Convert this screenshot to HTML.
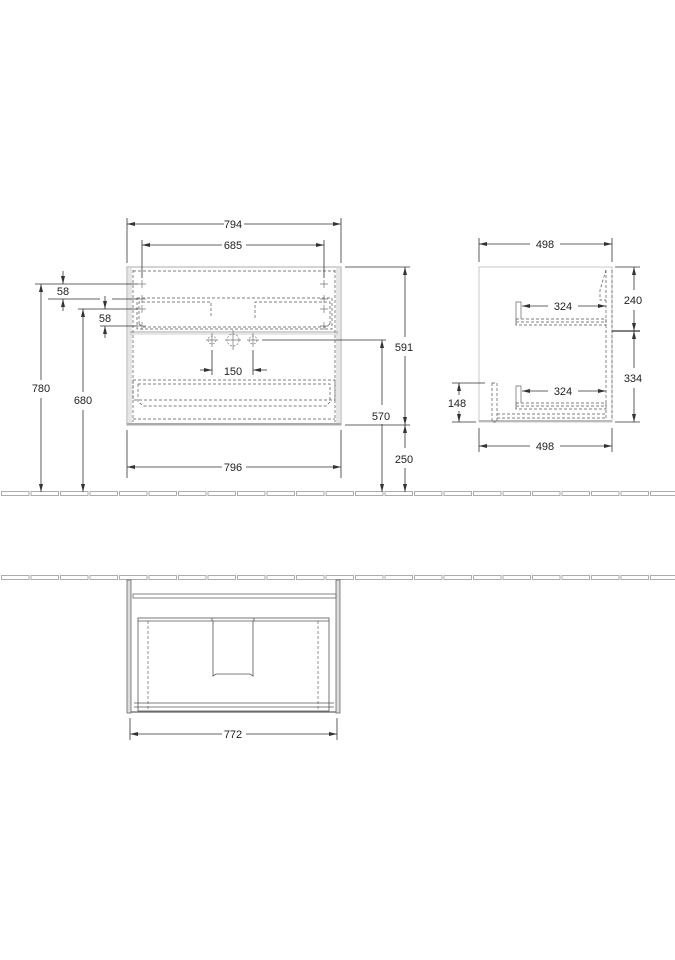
<!DOCTYPE html>
<html><head><style>html,body{margin:0;padding:0;background:#fff}svg{display:block}</style></head>
<body>
<svg width="675" height="960" viewBox="0 0 675 960" xmlns="http://www.w3.org/2000/svg" font-family="Liberation Sans, sans-serif" font-size="11" fill="none" stroke="#333" stroke-width="0.8">
<defs>
<marker id="a" markerWidth="8" markerHeight="6" refX="8" refY="3" orient="auto-start-reverse" markerUnits="userSpaceOnUse"><path d="M0,1 L8,3 L0,5 Z" fill="#333" stroke="none"/></marker>
<pattern id="t1" x="1" y="491" width="29.5" height="6" patternUnits="userSpaceOnUse"><rect x="0.5" y="0.5" width="27.5" height="4" fill="#fff" stroke="#999" stroke-width="0.8"/></pattern>
<pattern id="t2" x="1" y="575" width="29.5" height="6" patternUnits="userSpaceOnUse"><rect x="0.5" y="0.5" width="27.5" height="4" fill="#fff" stroke="#999" stroke-width="0.8"/></pattern>
</defs>
<!-- floors -->
<rect x="0" y="491" width="675" height="6" fill="url(#t1)" stroke="none"/>
<rect x="0" y="575" width="675" height="6" fill="url(#t2)" stroke="none"/>

<!-- FRONT VIEW -->
<rect x="127" y="267" width="214" height="158" stroke="#aaa" stroke-width="1"/>
<rect x="128" y="268" width="4" height="156" fill="#e6e6e6" stroke="none"/>
<rect x="336" y="268" width="4" height="156" fill="#e6e6e6" stroke="none"/>
<line x1="127" y1="424" x2="341" y2="424" stroke="#aaa" stroke-width="2"/>
<g stroke-dasharray="3,2" stroke="#555" stroke-width="0.7">
<line x1="133" y1="270" x2="133" y2="422"/><line x1="335" y1="270" x2="335" y2="422"/>
<line x1="133" y1="271" x2="335" y2="271"/>
<line x1="133" y1="419" x2="335" y2="419"/>
<rect x="137" y="298" width="195" height="31"/>
<path d="M139,324 V302 H211 V318"/><path d="M255,318 V302 H330 V324"/>
<path d="M139,324 L143,327 H326 L330,324"/>
<rect x="133" y="380" width="202" height="20"/>
<path d="M138,384 H330 V402 L326,406 H144 L138,402 Z"/>
</g>
<line x1="130" y1="332" x2="338" y2="332" stroke="#888"/>
<line x1="130" y1="334" x2="338" y2="334" stroke="#bbb"/>
<g stroke="#777" stroke-width="0.7">
<path d="M142,280v8M138,284h8M324,280v8M320,284h8"/>
<path d="M142,295v8M138,299h8M324,295v8M320,299h8"/>
<path d="M142,305v8M138,309h8M324,305v8M320,309h8"/>
<path d="M142,322v8M138,326h8M324,322v8M320,326h8"/>
<circle cx="212" cy="340" r="4" stroke-dasharray="2,1.5"/><path d="M212,333v14M206,340h12"/>
<circle cx="233" cy="340" r="6" stroke-dasharray="2,1.5"/><path d="M233,330v20M225,340h16"/>
<circle cx="253" cy="340" r="4" stroke-dasharray="2,1.5"/><path d="M253,333v14M247,340h12"/>
</g>
<!-- dims front -->
<line x1="127" y1="218" x2="127" y2="263"/><line x1="341" y1="218" x2="341" y2="263"/>
<line x1="127" y1="224" x2="224" y2="224" marker-start="url(#a)"/><line x1="244" y1="224" x2="341" y2="224" marker-end="url(#a)"/>
<line x1="142" y1="240" x2="142" y2="278"/><line x1="324" y1="240" x2="324" y2="278"/>
<line x1="142" y1="245" x2="222" y2="245" marker-start="url(#a)"/><line x1="246" y1="245" x2="324" y2="245" marker-end="url(#a)"/>
<line x1="127" y1="430" x2="127" y2="478"/><line x1="341" y1="430" x2="341" y2="478"/>
<line x1="127" y1="467" x2="222" y2="467" marker-start="url(#a)"/><line x1="246" y1="467" x2="341" y2="467" marker-end="url(#a)"/>
<!-- 780 -->
<line x1="35" y1="284" x2="138" y2="284"/>
<line x1="41" y1="284" x2="41" y2="380" marker-start="url(#a)"/><line x1="41" y1="398" x2="41" y2="492" marker-end="url(#a)"/>
<!-- 58 -->
<line x1="63" y1="271" x2="63" y2="284" marker-end="url(#a)"/>
<line x1="63" y1="311" x2="63" y2="299" marker-end="url(#a)"/>
<line x1="48" y1="299" x2="100" y2="299"/><line x1="112" y1="299" x2="138" y2="299"/>
<!-- 680 -->
<line x1="78" y1="309" x2="138" y2="309"/>
<line x1="83" y1="309" x2="83" y2="392" marker-start="url(#a)"/><line x1="83" y1="410" x2="83" y2="492" marker-end="url(#a)"/>
<!-- 58 b -->
<line x1="105" y1="296" x2="105" y2="309" marker-end="url(#a)"/>
<line x1="105" y1="338" x2="105" y2="326" marker-end="url(#a)"/>
<line x1="100" y1="326" x2="138" y2="326"/>
<!-- 150 -->
<line x1="212" y1="350" x2="212" y2="375"/><line x1="253" y1="350" x2="253" y2="375"/>
<line x1="200" y1="370" x2="212" y2="370" marker-end="url(#a)"/><line x1="267" y1="370" x2="253" y2="370" marker-end="url(#a)"/>
<!-- 591/250 -->
<line x1="345" y1="267" x2="410" y2="267"/><line x1="345" y1="425" x2="410" y2="425"/>
<line x1="405" y1="267" x2="405" y2="337" marker-start="url(#a)"/><line x1="405" y1="356" x2="405" y2="425" marker-end="url(#a)"/>
<line x1="405" y1="425" x2="405" y2="448" marker-start="url(#a)"/><line x1="405" y1="468" x2="405" y2="492" marker-end="url(#a)"/>
<!-- 570 -->
<line x1="262" y1="340" x2="386" y2="340"/>
<line x1="382" y1="340" x2="382" y2="405" marker-start="url(#a)"/><line x1="382" y1="424" x2="382" y2="492" marker-end="url(#a)"/>

<!-- SIDE VIEW -->
<rect x="479" y="267" width="133" height="155" stroke="#bbb"/>
<line x1="479" y1="421" x2="612" y2="421" stroke="#bbb" stroke-width="2"/>
<g stroke-dasharray="3,2" stroke="#555" stroke-width="0.7">
<path d="M606,270 V420"/><path d="M612,270 V420"/>
<path d="M606,270 L603,280 L600,290 V300 H606"/>
<rect x="516" y="319" width="90" height="6"/><path d="M516,322h90"/>
<rect x="516" y="403" width="90" height="6"/><path d="M516,406h90"/>
<rect x="492" y="383" width="5" height="39"/>
<path d="M497,414 H606 M497,418 H606"/>
</g>
<path d="M516,325 V302 H521 V319" stroke="#666" stroke-width="0.7"/>
<path d="M516,409 V386 H521 V403" stroke="#666" stroke-width="0.7"/>
<line x1="479" y1="238" x2="479" y2="262"/><line x1="612" y1="238" x2="612" y2="262"/>
<line x1="479" y1="244" x2="530" y2="244" marker-start="url(#a)"/><line x1="560" y1="244" x2="612" y2="244" marker-end="url(#a)"/>
<line x1="479" y1="428" x2="479" y2="452"/><line x1="612" y1="428" x2="612" y2="452"/>
<line x1="479" y1="446" x2="530" y2="446" marker-start="url(#a)"/><line x1="560" y1="446" x2="612" y2="446" marker-end="url(#a)"/>
<line x1="522" y1="306" x2="548" y2="306" marker-start="url(#a)"/><line x1="578" y1="306" x2="606" y2="306" marker-end="url(#a)"/>
<line x1="522" y1="391" x2="548" y2="391" marker-start="url(#a)"/><line x1="578" y1="391" x2="606" y2="391" marker-end="url(#a)"/>
<line x1="615" y1="267" x2="640" y2="267"/><line x1="612" y1="331" x2="640" y2="331" stroke-width="1.2"/><line x1="615" y1="422" x2="640" y2="422"/>
<line x1="634" y1="267" x2="634" y2="290" marker-start="url(#a)"/><line x1="634" y1="310" x2="634" y2="331" marker-end="url(#a)"/>
<line x1="634" y1="331" x2="634" y2="368" marker-start="url(#a)"/><line x1="634" y1="388" x2="634" y2="422" marker-end="url(#a)"/>
<line x1="452" y1="383" x2="485" y2="383"/><line x1="452" y1="422" x2="476" y2="422"/>
<line x1="459" y1="383" x2="459" y2="395" marker-start="url(#a)"/><line x1="459" y1="411" x2="459" y2="422" marker-end="url(#a)"/>

<!-- PLAN VIEW -->
<rect x="127" y="580" width="4" height="133" stroke="#666" fill="#ddd"/>
<rect x="336" y="580" width="4" height="133" stroke="#666" fill="#ddd"/>
<line x1="131" y1="712" x2="336" y2="712" stroke="#666" stroke-width="1.2"/>
<rect x="133" y="594" width="203" height="4" stroke="#666"/>
<rect x="138" y="618" width="191" height="93" stroke="#555"/>
<line x1="138" y1="621" x2="329" y2="621" stroke="#555"/>
<line x1="134" y1="703" x2="334" y2="703" stroke="#555"/>
<line x1="134" y1="707" x2="334" y2="707" stroke="#555"/>
<g stroke-dasharray="3,2" stroke="#666" stroke-width="0.7"><line x1="148" y1="621" x2="148" y2="711"/><line x1="318" y1="621" x2="318" y2="711"/></g>
<path d="M212,618 V621 M254,618 V621 M213,621 V676 L216,674 H250 L253,676 V621" stroke="#555"/>
<line x1="130" y1="718" x2="130" y2="740"/><line x1="337" y1="718" x2="337" y2="740"/>
<line x1="130" y1="734" x2="222" y2="734" marker-start="url(#a)"/><line x1="246" y1="734" x2="337" y2="734" marker-end="url(#a)"/>

<g fill="#222" stroke="none" text-anchor="middle">
<text x="233" y="228">794</text><text x="233" y="249">685</text><text x="233" y="471">796</text>
<text x="41" y="392">780</text><text x="63" y="295">58</text><text x="83" y="404">680</text><text x="105" y="322">58</text>
<text x="233" y="375">150</text><text x="404" y="351">591</text><text x="404" y="463">250</text><text x="381" y="420">570</text>
<text x="545" y="248">498</text><text x="545" y="450">498</text><text x="563" y="310">324</text><text x="563" y="395">324</text>
<text x="633" y="304">240</text><text x="633" y="382">334</text><text x="457" y="407">148</text>
<text x="233" y="738">772</text>
</g>
</svg>
</body></html>
